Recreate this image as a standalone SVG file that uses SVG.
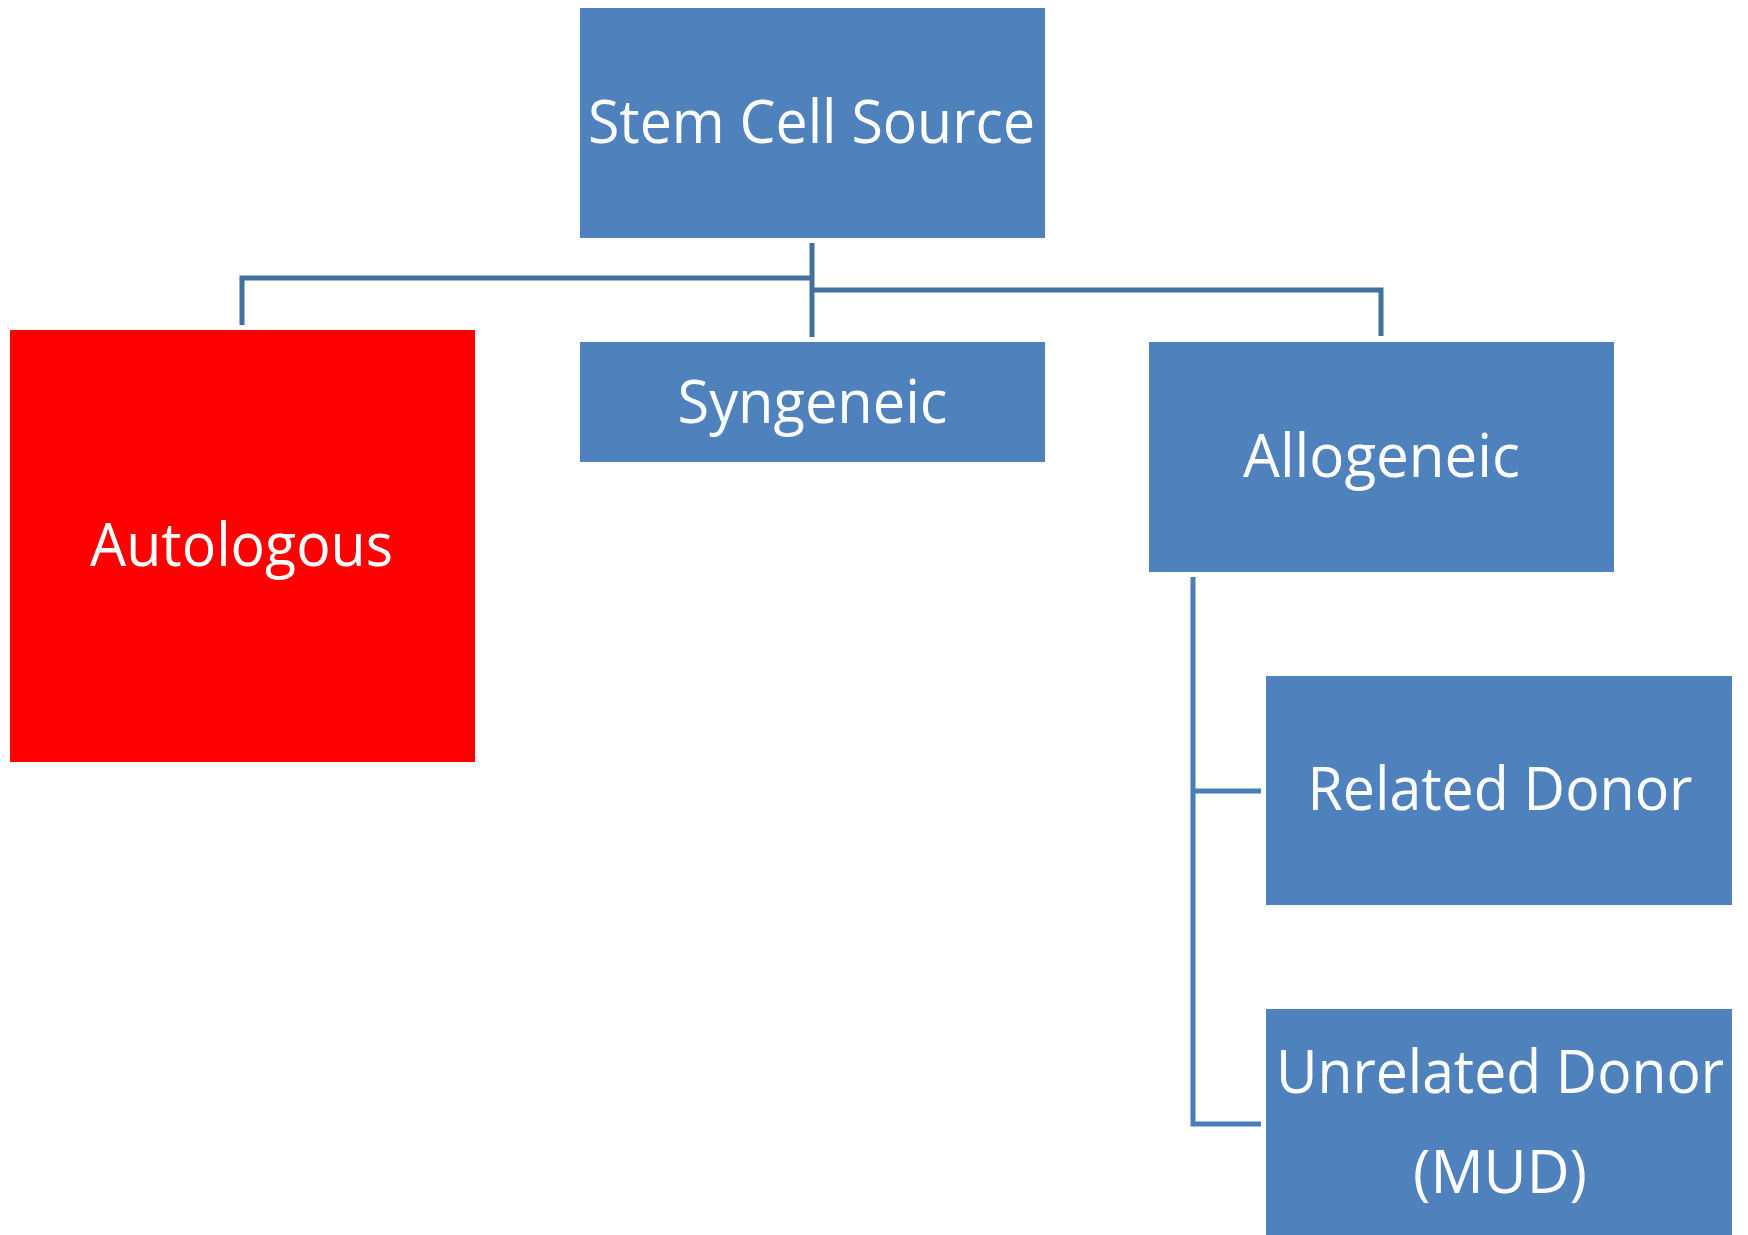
<svg xmlns="http://www.w3.org/2000/svg" width="1748" height="1235" viewBox="0 0 1748 1235">
<style>
.box{fill:#4F81BD;}
.red{fill:#FF0000;}
.lbl{font-family:"Open Sans","Liberation Sans",sans-serif;font-size:61px;fill:#FFFFFF;text-anchor:middle;}
.c1{fill:none;stroke:#41709E;stroke-width:5;stroke-linejoin:miter;}
.c2{fill:none;stroke:#4A7CB8;stroke-width:5;stroke-linejoin:miter;}
</style>
<rect width="1748" height="1235" fill="#FFFFFF"/>
<g id="connectors">
<path class="c1" d="M242,325 V278 H812"/>
<path class="c1" d="M812,243 V337"/>
<path class="c1" d="M812,290 H1381 V336"/>
<path class="c2" d="M1193,577 V1124 H1261"/>
<path class="c2" d="M1193,791 H1261"/>
</g>
<g id="stem-cell-source">
<rect class="box" x="580" y="8" width="465" height="230"/>
<text class="lbl" x="811.5" y="143" textLength="447" lengthAdjust="spacingAndGlyphs">Stem Cell Source</text>
</g>
<g id="autologous">
<rect class="red" x="10" y="330" width="465" height="432"/>
<text class="lbl" x="241.5" y="566" textLength="303" lengthAdjust="spacingAndGlyphs">Autologous</text>
</g>
<g id="syngeneic">
<rect class="box" x="580" y="342" width="465" height="120"/>
<text class="lbl" x="812.5" y="423" textLength="270" lengthAdjust="spacingAndGlyphs">Syngeneic</text>
</g>
<g id="allogeneic">
<rect class="box" x="1149" y="342" width="465" height="230"/>
<text class="lbl" x="1381.5" y="477" textLength="277" lengthAdjust="spacingAndGlyphs">Allogeneic</text>
</g>
<g id="related-donor">
<rect class="box" x="1266" y="676" width="466" height="229"/>
<text class="lbl" x="1500" y="810" textLength="385" lengthAdjust="spacingAndGlyphs">Related Donor</text>
</g>
<g id="unrelated-donor">
<rect class="box" x="1266" y="1009" width="466" height="230"/>
<text class="lbl" x="1500" y="1093" textLength="448" lengthAdjust="spacingAndGlyphs">Unrelated Donor</text>
<text class="lbl" x="1500" y="1193" textLength="174" lengthAdjust="spacingAndGlyphs">(MUD)</text>
</g>
</svg>
